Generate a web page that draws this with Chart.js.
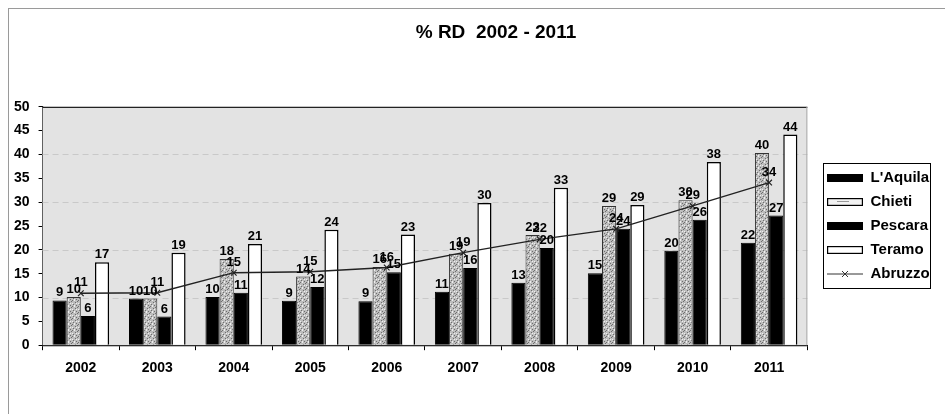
<!DOCTYPE html>
<html><head><meta charset="utf-8">
<script src="https://cdn.jsdelivr.net/npm/chart.js@4"></script>
<style>
html,body{margin:0;padding:0;background:#fff;overflow:hidden;}
#wrap{position:relative;width:945px;height:414px;}
#frame{position:absolute;left:8px;top:8px;width:1000px;height:1000px;border-left:1px solid #9a9a9a;border-top:1px solid #9a9a9a;pointer-events:none;}
canvas{display:block;}
</style></head><body>
<div id="wrap"><canvas id="c" width="945" height="414"></canvas><div id="frame"></div></div>
<script>
const titleText = '% RD  2002 - 2011';
const years = ['2002','2003','2004','2005','2006','2007','2008','2009','2010','2011'];
const laquila = [9.4, 9.8, 10.1, 9.3, 9.2, 11.2, 13.1, 15.1, 19.8, 21.5];
const chieti  = [10.1, 9.8, 18.1, 14.4, 16.4, 19.2, 23.1, 29.2, 30.4, 40.3];
const pescara = [6.1, 6.0, 11.0, 12.2, 15.3, 16.2, 20.4, 24.4, 26.3, 27.2];
const teramo  = [17.4, 19.4, 21.2, 24.2, 23.2, 29.8, 33.0, 29.4, 38.4, 44.2];
const abruzzo = [10.9, 11.0, 15.2, 15.4, 16.3, 19.4, 22.2, 24.4, 29.2, 34.1];
const yTicks = {min: 0, max: 50, step: 5};

const FONT = '"Liberation Sans", Arial, sans-serif';
const canvas = document.getElementById('c');
const ctx = canvas.getContext('2d');

function chietiPattern(){
  const c = document.createElement('canvas'); c.width = 6; c.height = 6;
  const x = c.getContext('2d');
  x.fillStyle = '#bdbdbd'; x.fillRect(0,0,6,6);
  x.fillStyle = '#6e6e6e';
  [[0,0],[3,2],[1,4],[4,5],[5,1]].forEach(p => x.fillRect(p[0],p[1],1,1));
  x.fillStyle = '#eeeeee';
  [[2,0],[0,3],[4,3],[2,5]].forEach(p => x.fillRect(p[0],p[1],1,1));
  return ctx.createPattern(c, 'repeat');
}
const chPat = chietiPattern();

function legendIcon(kind){
  const c = document.createElement('canvas'); c.width = 36; c.height = 10;
  const x = c.getContext('2d');
  if (kind === 'black') { x.fillStyle = '#000'; x.fillRect(0,1,36,8); }
  else if (kind === 'white') { x.fillStyle = '#fff'; x.fillRect(0,1,36,8); x.strokeStyle='#000'; x.lineWidth=1.2; x.strokeRect(0.6,1.6,34.8,6.8); }
  else if (kind === 'pattern') { x.fillStyle = '#f2f2f2'; x.fillRect(0,1,36,8); x.fillStyle='#999'; x.fillRect(10,4,12,1); x.strokeStyle='#000'; x.lineWidth=1.2; x.strokeRect(0.6,1.6,34.8,6.8); }
  else { x.strokeStyle = '#333'; x.lineWidth = 1; x.beginPath(); x.moveTo(0,5); x.lineTo(36,5); x.moveTo(15,2); x.lineTo(21,8); x.moveTo(21,2); x.lineTo(15,8); x.stroke(); }
  return c;
}

const LEGEND_PAD = 9;

const plotDecor = {
  id: 'plotDecor',
  afterLayout(chart){
    const t = chart.titleBlock;
    if (t) { t.left += 29; t.right += 29; }
    const L = chart.legend;
    if (L) { const d = 827 - (L.left + LEGEND_PAD); L.left += d; L.right += d; }
  },
  beforeDatasetsDraw(chart){
    const {ctx, chartArea: a} = chart;
    ctx.save();
    ctx.fillStyle = '#e3e3e3';
    ctx.fillRect(a.left, a.top, a.right - a.left, a.bottom - a.top);
    ctx.strokeStyle = '#c9c9c9'; ctx.setLineDash([6,4]); ctx.lineWidth = 1;
    const ys = chart.scales.y;
    [10, 20, 30, 40].forEach(v => { const py = Math.round(ys.getPixelForValue(v)) + 0.5; ctx.beginPath(); ctx.moveTo(a.left, py); ctx.lineTo(a.right, py); ctx.stroke(); });
    ctx.setLineDash([]);
    ctx.strokeStyle = '#222'; ctx.lineWidth = 1.2;
    ctx.beginPath(); ctx.moveTo(a.left, a.top + 0.5); ctx.lineTo(a.right, a.top + 0.5); ctx.stroke();
    ctx.strokeStyle = '#aaa'; ctx.lineWidth = 1;
    ctx.beginPath(); ctx.moveTo(a.right - 0.5, a.top); ctx.lineTo(a.right - 0.5, a.bottom); ctx.stroke();
    ctx.restore();
  },
  afterDatasetsDraw(chart){
    const c = chart.ctx;
    c.save();
    c.font = 'bold 13px ' + FONT;
    c.fillStyle = '#000'; c.textAlign = 'center'; c.textBaseline = 'bottom';
    chart.data.datasets.forEach((ds, i) => {
      const meta = chart.getDatasetMeta(i);
      meta.data.forEach((el, j) => {
        c.fillText(String(Math.round(ds.data[j])), el.x, el.y - (ds.type === 'line' ? 4 : 1));
      });
    });
    c.restore();
  },
  afterDraw(chart){
    const c = chart.ctx;
    c.save();
    c.strokeStyle = '#000'; c.lineWidth = 1;
    c.strokeRect(823.5, 163.5, 107, 125);
    c.restore();
  }
};

new Chart(ctx, {
  type: 'bar',
  data: {
    labels: years,
    datasets: [
      {label: "L'Aquila", data: laquila, backgroundColor: '#000', borderColor: '#000', borderWidth: 1, order: 1},
      {label: 'Chieti', data: chieti, backgroundColor: chPat, borderColor: '#333', borderWidth: 1, order: 1},
      {label: 'Pescara', data: pescara, backgroundColor: '#000', borderColor: '#000', borderWidth: 1, order: 1},
      {label: 'Teramo', data: teramo, backgroundColor: '#fff', borderColor: '#000', borderWidth: 1.5, order: 1},
      {label: 'Abruzzo', type: 'line', data: abruzzo, borderColor: '#222', borderWidth: 1.3, backgroundColor: '#222',
       pointStyle: 'crossRot', pointRadius: 4, pointBorderWidth: 1.2, pointBorderColor: '#222', tension: 0, fill: false, order: 0}
    ]
  },
  options: {
    responsive: false,
    animation: false,
    datasets: { bar: { categoryPercentage: 0.74, barPercentage: 1.0 } },
    layout: { padding: { left: 5, right: 16, top: 0, bottom: 27 } },
    plugins: {
      title: { display: true, text: titleText, color: '#000', font: { family: FONT, size: 19, weight: 'bold' }, padding: { top: 21, bottom: 63 } },
      tooltip: { enabled: false },
      legend: {
        position: 'right',
        fullSize: false,
        labels: {
          color: '#000', font: { family: FONT, size: 15, weight: 'bold' },
          usePointStyle: true, pointStyleWidth: 36, padding: LEGEND_PAD,
          sort: (a, b) => a.datasetIndex - b.datasetIndex,
          generateLabels(chart){
            const kinds = ['black', 'pattern', 'black', 'white', 'line'];
            return chart.data.datasets.map((ds, i) => ({
              text: ds.label, datasetIndex: i, pointStyle: legendIcon(kinds[i]), hidden: false,
              fillStyle: '#000', strokeStyle: '#000', lineWidth: 0, fontColor: '#000'
            }));
          }
        }
      }
    },
    scales: {
      x: {
        grid: { display: true, drawOnChartArea: false, offset: true, color: '#000', tickLength: 5 },
        border: { display: true, color: '#000', width: 1.2 },
        ticks: { color: '#000', font: { family: FONT, size: 14, weight: 'bold' }, padding: 10 }
      },
      y: {
        min: yTicks.min, max: yTicks.max,
        grid: { display: true, drawOnChartArea: false, color: '#000', tickLength: 4 },
        border: { display: true, color: '#000', width: 1.2 },
        ticks: { stepSize: yTicks.step, color: '#000', font: { family: FONT, size: 14, weight: 'bold' }, padding: 9 }
      }
    }
  },
  plugins: [plotDecor]
});
</script>
</body></html>
